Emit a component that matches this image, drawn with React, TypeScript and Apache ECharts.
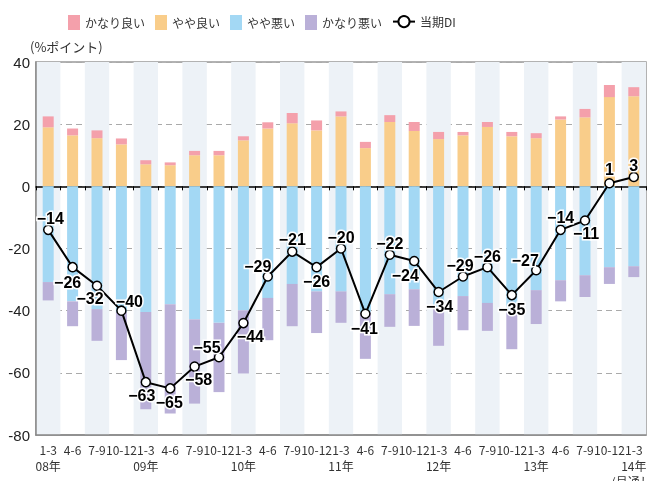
import React, { useEffect, useRef } from "react";
import * as echarts from "echarts";

const quarters = ["1-3","4-6","7-9","10-12","1-3","4-6","7-9","10-12","1-3","4-6","7-9","10-12","1-3","4-6","7-9","10-12","1-3","4-6","7-9","10-12","1-3","4-6","7-9","10-12","1-3"];
const yearLabels: Record<number, string> = { 0: "08年", 4: "09年", 8: "10年", 12: "11年", 16: "12年", 20: "13年", 24: "14年\n(見通し)" };

const kanariYoi = [3.5,2.2,2.5,1.9,1.3,0.9,1.4,1.4,1.3,2.0,3.3,3.2,1.6,2.0,2.2,2.9,2.3,1.1,1.6,1.4,1.6,1.0,2.7,3.9,2.9];
const yayaYoi = [19.0,16.4,15.5,13.5,7.1,6.8,10.0,10.0,14.8,18.6,20.3,18.0,22.5,12.3,20.7,17.8,15.2,16.4,19.1,16.1,15.5,21.5,22.2,28.7,29.0];
const yayaWarui = [-30.8,-37.0,-39.5,-40.4,-40.4,-37.9,-42.8,-43.9,-39.9,-35.9,-31.4,-33.8,-33.8,-40.5,-34.7,-33.1,-39.3,-35.3,-37.5,-40.4,-33.4,-30.2,-28.6,-26.0,-25.7];
const kanariWarui = [-5.9,-8.0,-10.2,-15.5,-31.3,-35.2,-27.1,-22.3,-20.3,-13.6,-13.6,-13.4,-10.1,-15.0,-10.5,-11.8,-12.0,-11.0,-9.0,-12.0,-10.9,-6.8,-7.0,-5.4,-3.5];
const di = [-14,-26,-32,-40,-63,-65,-58,-55,-44,-29,-21,-26,-20,-41,-22,-24,-34,-29,-26,-35,-27,-14,-11,1,3];

const labelOffsets: [number, number][] = [
  [2,-11],[-5,15],[-7,13],[8,-9],[-4,13],[-1,14],[4,13],[-12,-10],[7,13],[-10,-10],
  [0,-12],[0,14],[0,-11],[-1,15],[0,-11],[-9,15],[1,14],[-3,-11],[0,-11],[0,14],
  [-11,-10],[0,-12],[1,13],[0,-14],[0,-12]
];

const categories = quarters.map((q, i) => (yearLabels[i] ? q + "\n" + yearLabels[i] : q));

export default function App() {
  const ref = useRef<HTMLDivElement>(null);
  useEffect(() => {
    if (!ref.current) return;
    const chart = echarts.init(ref.current, null, { renderer: "svg" });
    const font = "'Noto Sans CJK JP', 'Noto Sans', sans-serif";
    chart.setOption({
      animation: false,
      textStyle: { fontFamily: font },
      legend: [
        {
          data: ["かなり良い", "やや良い", "やや悪い", "かなり悪い"],
          left: 63, top: 10, itemWidth: 12, itemHeight: 15, itemGap: 10,
          icon: "rect",
          textStyle: { fontSize: 12, color: "#333", fontFamily: font },
        },
        {
          data: ["当期DI"],
          left: 387, top: 10, itemWidth: 22, itemHeight: 14,
          textStyle: { fontSize: 12, color: "#333", fontFamily: font },
        },
      ],
      graphic: [
        { type: "text", left: 30, top: 40, style: { text: "(%ポイント)", fontSize: 13, fill: "#333", fontFamily: font } },
      ],
      grid: { left: 36, right: 3, top: 62, bottom: 46, show: true, borderColor: "#999", borderWidth: 1.5, backgroundColor: "transparent", containLabel: false, outerBoundsMode: "none" },
      xAxis: [
        {
          type: "category",
          data: categories,
          position: "bottom",
          axisLine: { onZero: false, lineStyle: { color: "#888", width: 1.5 } },
          axisTick: { show: false },
          axisLabel: { interval: 0, fontSize: 12, color: "#333", lineHeight: 16, margin: 6, fontFamily: font },
          splitLine: { show: false },
          splitArea: { show: true, interval: 0, areaStyle: { color: ["#edf2f7", "rgba(255,255,255,0)"] } },
        },
        {
          type: "category",
          data: categories,
          position: "top",
          axisLine: { onZero: true, lineStyle: { color: "#000", width: 1.5 } },
          axisTick: { show: true, inside: true, length: 4, interval: 0, lineStyle: { color: "#000", width: 1 } },
          axisLabel: { show: false },
          splitLine: { show: false },
          splitArea: { show: false },
        },
      ],
      yAxis: {
        type: "value",
        min: -80, max: 40, interval: 20,
        axisLine: { show: true, lineStyle: { color: "#888", width: 1.5 } },
        axisTick: { show: false },
        axisLabel: { fontSize: 15, color: "#222", margin: 6, fontFamily: "'Liberation Sans', Arial, sans-serif" },
        splitLine: { show: true, lineStyle: { color: "#aaa", type: [6, 4], width: 1 } },
      },
      series: [
        { name: "やや良い", type: "bar", stack: "a", barWidth: 11, data: yayaYoi, itemStyle: { color: "#f9cd8a" } },
        { name: "かなり良い", type: "bar", stack: "a", barWidth: 11, data: kanariYoi, itemStyle: { color: "#f4a0ab" } },
        { name: "やや悪い", type: "bar", stack: "a", barWidth: 11, data: yayaWarui, itemStyle: { color: "#a3d8f4" } },
        { name: "かなり悪い", type: "bar", stack: "a", barWidth: 11, data: kanariWarui, itemStyle: { color: "#bab0d8" } },
        {
          name: "当期DI",
          type: "line",
          z: 10,
          data: di.map((v, i) => ({ value: v, label: { offset: labelOffsets[i] } })),
          symbol: "circle",
          symbolSize: 9,
          lineStyle: { color: "#000", width: 2 },
          itemStyle: { color: "#fff", borderColor: "#000", borderWidth: 1.5 },
          label: {
            show: true,
            position: "inside",
            fontSize: 16,
            fontWeight: "bold",
            color: "#000",
            textBorderColor: "#fff",
            textBorderWidth: 3,
            fontFamily: "'Liberation Sans', Arial, sans-serif",
            formatter: (p: any) => String(p.value).replace("-", "−"),
          },
        },
      ],
    });
    return () => chart.dispose();
  }, []);
  return <div ref={ref} style={{ position: "fixed", left: 0, top: 0, width: 649, height: 481 }} />;
}
